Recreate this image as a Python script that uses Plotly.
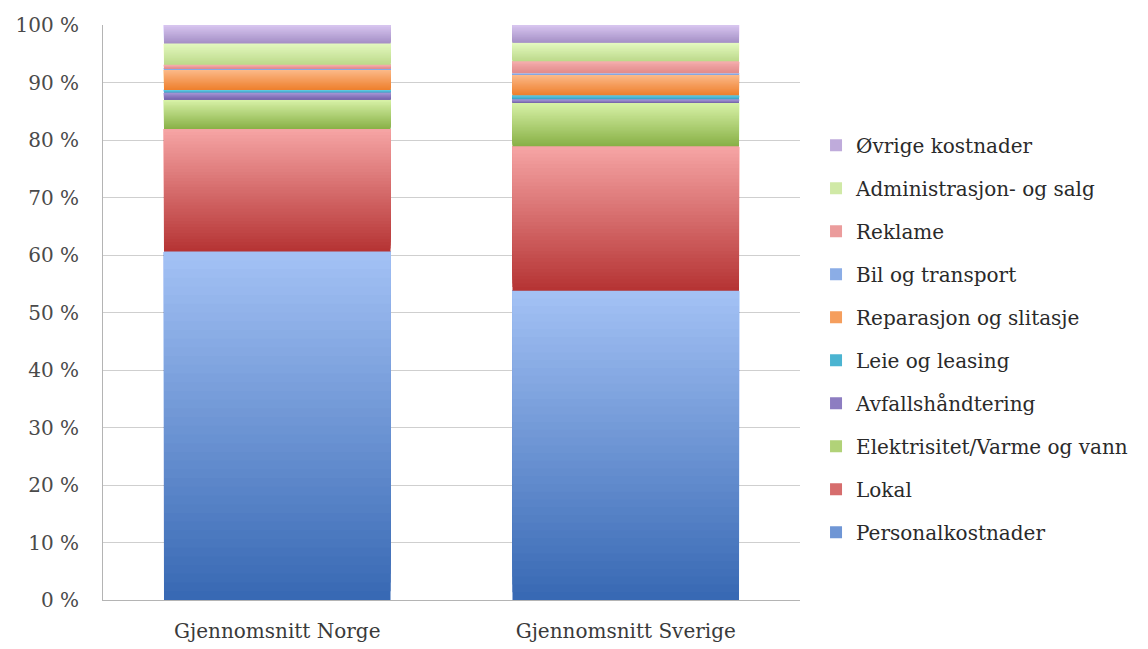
import plotly.graph_objects as go

# Categories (x axis) and cost shares in percent, stacked bottom to top
regions = ["Gjennomsnitt Norge", "Gjennomsnitt Sverige"]

personalkostnader = [60.6, 53.8]
lokal = [21.3, 25.1]
elektrisitet = [5.1, 7.6]
avfall = [1.3, 0.6]
leie = [0.4, 0.7]
reparasjon = [3.6, 3.6]
bil = [0.1, 0.2]
reklame = [0.7, 2.1]
administrasjon = [3.7, 3.2]
ovrige = [3.2, 3.1]

cost_types = [
    "Personalkostnader",
    "Lokal",
    "Elektrisitet/Varme og vann",
    "Avfallshåndtering",
    "Leie og leasing",
    "Reparasjon og slitasje",
    "Bil og transport",
    "Reklame",
    "Administrasjon- og salg",
    "Øvrige kostnader",
]
series = [personalkostnader, lokal, elektrisitet, avfall, leie,
          reparasjon, bil, reklame, administrasjon, ovrige]

# Y axis ticks (Norwegian percent format)
y_ticks = [0, 10, 20, 30, 40, 50, 60, 70, 80, 90, 100]
y_tick_labels = ["0 %", "10 %", "20 %", "30 %", "40 %", "50 %",
                 "60 %", "70 %", "80 %", "90 %", "100 %"]

# Vertical gradient per series: (top colour, bottom colour)
gradients = [
    ("#a4c2f5", "#3768b3"),
    ("#f6a5a5", "#b53333"),
    ("#d8f2a8", "#88b046"),
    ("#a596d6", "#7462ab"),
    ("#5cc8e0", "#3a9fc2"),
    ("#fcbb8c", "#ee7f2c"),
    ("#a8c4f4", "#6d94d8"),
    ("#f5adad", "#e08a8a"),
    ("#e4f9c0", "#bcd98a"),
    ("#d8c6f0", "#a48fc5"),
]

N_SLICES = 40


def hex_to_rgb(h):
    h = h.lstrip("#")
    return tuple(int(h[i:i + 2], 16) for i in (0, 2, 4))


def mix(c_bottom, c_top, t):
    a = hex_to_rgb(c_bottom)
    b = hex_to_rgb(c_top)
    r = [round(a[j] + (b[j] - a[j]) * t) for j in range(3)]
    return "rgb(%d,%d,%d)" % tuple(r)


fig = go.Figure()

cum = [0.0] * len(regions)
for idx, (name, vals, (top_c, bot_c)) in enumerate(zip(cost_types, series, gradients)):
    # each slice runs from its own base to the top of the segment, so the
    # next (lighter) slice paints over it and gives a seamless gradient
    for k in range(N_SLICES):
        frac = k / N_SLICES
        base = [c + v * frac for c, v in zip(cum, vals)]
        height = [v * (1 - frac) for v in vals]
        fig.add_trace(go.Bar(
            x=regions,
            y=height,
            base=base,
            width=0.65,
            name=name,
            legendgroup=name,
            legendrank=100 - idx,   # top of the stack listed first
            showlegend=(k == N_SLICES // 2),
            marker=dict(color=mix(bot_c, top_c, (k + 0.5) / N_SLICES),
                        line=dict(width=0)),
            hoverinfo="skip",
        ))
    cum = [c + v for c, v in zip(cum, vals)]

font_family = "DejaVu Serif"

fig.update_layout(
    width=1148,
    height=649,
    barmode="overlay",
    paper_bgcolor="white",
    plot_bgcolor="white",
    margin=dict(l=103, r=348, t=25, b=49, autoexpand=False),
    font=dict(family=font_family, size=20, color="#3a3a3a"),
    legend=dict(
        x=1.023,
        xanchor="left",
        y=0.825,
        yanchor="top",
        traceorder="grouped",
        tracegroupgap=14,
        font=dict(family=font_family, size=20, color="#2a2a2a"),
        bgcolor="rgba(0,0,0,0)",
    ),
    xaxis=dict(
        range=[-0.5, 1.5],
        automargin=False,
        showline=True,
        linecolor="#b4b4b4",
        linewidth=1,
        showgrid=False,
        ticks="",
        ticklabelstandoff=13,
        tickfont=dict(family=font_family, size=20, color="#3a3a3a"),
    ),
    yaxis=dict(
        range=[0, 100],
        automargin=False,
        tickmode="array",
        tickvals=y_ticks,
        ticktext=y_tick_labels,
        showline=True,
        linecolor="#b4b4b4",
        linewidth=1,
        showgrid=True,
        gridcolor="#cfcfcf",
        gridwidth=1,
        zeroline=False,
        ticks="",
        ticklabelstandoff=19,
        tickfont=dict(family=font_family, size=20, color="#4a4a4a"),
    ),
)

fig.write_html("out.html")
